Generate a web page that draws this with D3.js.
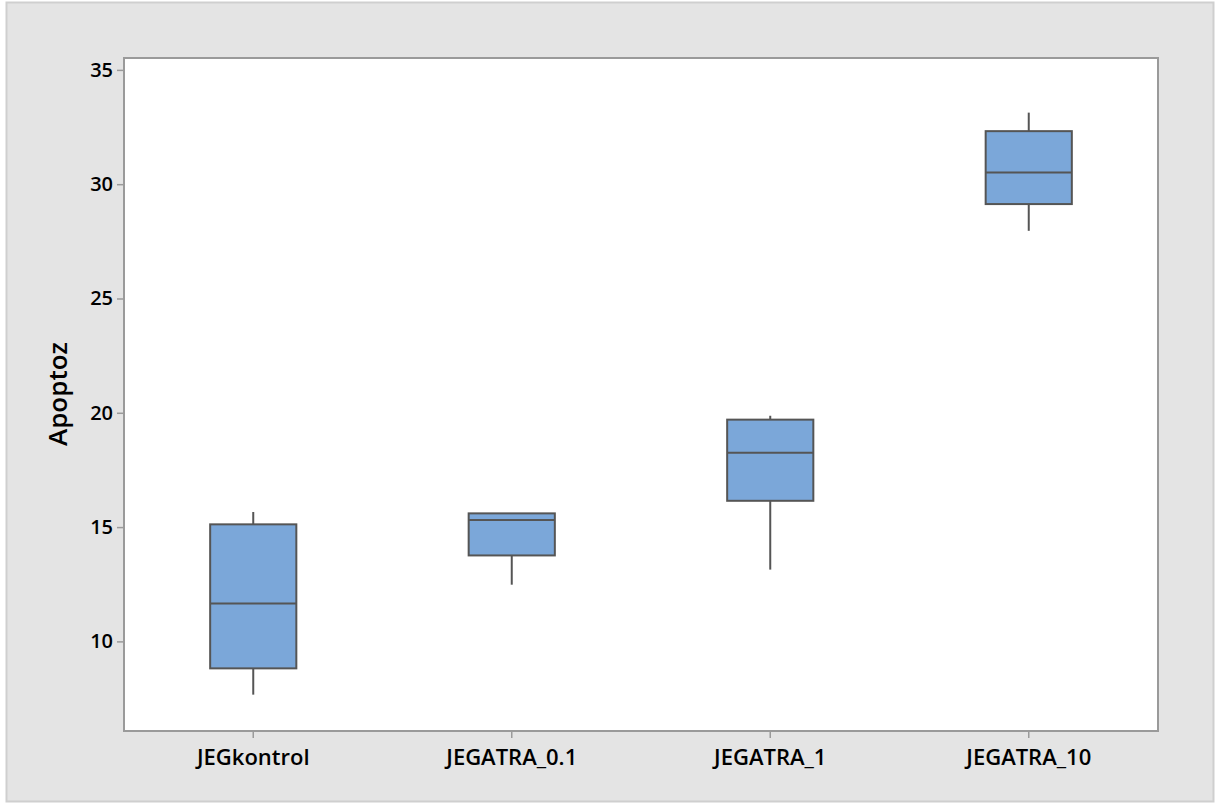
<!DOCTYPE html>
<html>
<head>
<meta charset="utf-8">
<script src="https://cdn.jsdelivr.net/npm/d3@7"></script>
<style>
  html, body { margin: 0; padding: 0; background: #ffffff; }
  svg { display: block; }
  text { font-family: "Open Sans", "DejaVu Sans", sans-serif; }
</style>
</head>
<body>
<svg id="chart" width="1232" height="803"></svg>
<script>
// Groups and their five-number summaries (Apoptoz)
const categories = ["JEGkontrol", "JEGATRA_0.1", "JEGATRA_1", "JEGATRA_10"];
const whiskerLow  = [7.67, 12.48, 13.14, 27.96];
const q1Values    = [8.82, 13.76, 16.15, 29.13];
const medians     = [11.66, 15.31, 18.25, 30.51];
const q3Values    = [15.12, 15.60, 19.70, 32.32];
const whiskerHigh = [15.66, 15.60, 19.87, 33.13];
const yTicks = [10, 15, 20, 25, 30, 35];
const yLabel = "Apoptoz";

const svg = d3.select("#chart");

// outer panel
svg.append("rect")
  .attr("x", 6.5).attr("y", 2.5)
  .attr("width", 1207).attr("height", 799)
  .attr("fill", "#e4e4e4").attr("stroke", "#cfcfcf").attr("stroke-width", 2);

const plot = { left: 124, top: 58, right: 1158, bottom: 731 };

// data region
svg.append("rect")
  .attr("x", plot.left).attr("y", plot.top)
  .attr("width", plot.right - plot.left).attr("height", plot.bottom - plot.top)
  .attr("fill", "#ffffff").attr("stroke", "#9a9a9a").attr("stroke-width", 2);

const x = d3.scaleBand().domain(categories).range([plot.left, plot.right]).padding(0);
const y = d3.scaleLinear().domain([6.08, 35.52]).range([plot.bottom, plot.top]);

// y axis
const yAxis = svg.append("g")
  .attr("transform", `translate(${plot.left - 1},0)`)
  .call(d3.axisLeft(y).tickValues(yTicks).tickSize(6).tickPadding(4).tickFormat(d3.format("d")));
yAxis.select(".domain").remove();
yAxis.selectAll(".tick line").attr("stroke", "#9a9a9a").attr("stroke-width", 1.5);
yAxis.selectAll(".tick text")
  .attr("fill", "#000").style("font-size", "20px").style("font-weight", "600");

// x axis
const xAxis = svg.append("g")
  .attr("transform", `translate(0,${plot.bottom + 1})`)
  .call(d3.axisBottom(x).tickSize(6).tickPadding(11));
xAxis.select(".domain").remove();
xAxis.selectAll(".tick line").attr("stroke", "#9a9a9a").attr("stroke-width", 1.5);
xAxis.selectAll(".tick text")
  .attr("fill", "#000").style("font-size", "22px").style("font-weight", "600");

// y axis title
svg.append("text")
  .attr("transform", `translate(67,394) rotate(-90)`)
  .attr("text-anchor", "middle")
  .style("font-size", "26px").style("font-weight", "600").attr("fill", "#000")
  .text(yLabel);

// boxes
const boxW = x.bandwidth() / 3;
const stroke = "#555555";
const groups = svg.append("g").selectAll("g")
  .data(categories.map((c, i) => ({
    c, lo: whiskerLow[i], q1: q1Values[i], med: medians[i], q3: q3Values[i], hi: whiskerHigh[i]
  })))
  .join("g")
  .attr("transform", d => `translate(${x(d.c) + x.bandwidth() / 2},0)`);

groups.append("line")
  .attr("x1", 0).attr("x2", 0)
  .attr("y1", d => y(d.hi)).attr("y2", d => y(d.q3))
  .attr("stroke", stroke).attr("stroke-width", 2);
groups.append("line")
  .attr("x1", 0).attr("x2", 0)
  .attr("y1", d => y(d.q1)).attr("y2", d => y(d.lo))
  .attr("stroke", stroke).attr("stroke-width", 2);
groups.append("rect")
  .attr("x", -boxW / 2).attr("width", boxW)
  .attr("y", d => y(d.q3)).attr("height", d => y(d.q1) - y(d.q3))
  .attr("fill", "#7ba7d9").attr("stroke", stroke).attr("stroke-width", 2);
groups.append("line")
  .attr("x1", -boxW / 2).attr("x2", boxW / 2)
  .attr("y1", d => y(d.med)).attr("y2", d => y(d.med))
  .attr("stroke", stroke).attr("stroke-width", 2);
</script>
</body>
</html>
